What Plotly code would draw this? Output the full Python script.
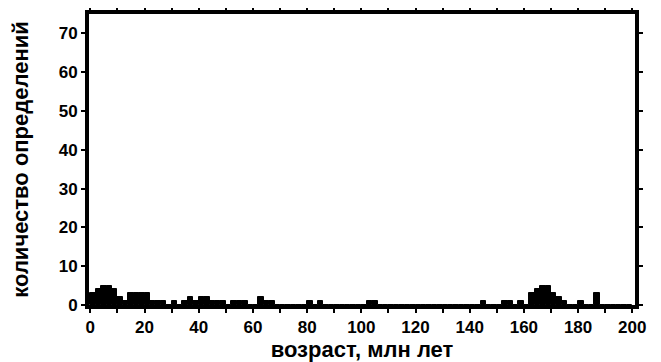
import plotly.graph_objects as go

# bin left edges (2 млн лет) and counts
bin_start = list(range(0, 200, 2))
counts = [
    3, 4, 5, 5, 4, 2, 1, 3, 3, 3,   # 0-20
    3, 1, 1, 1, 0, 1, 0, 1, 2, 1,   # 20-40
    2, 2, 1, 1, 1, 0, 1, 1, 1, 0,   # 40-60
    0, 2, 1, 1, 0, 0, 0, 0, 0, 0,   # 60-80
    1, 0, 1, 0, 0, 0, 0, 0, 0, 0,   # 80-100
    0, 1, 1, 0, 0, 0, 0, 0, 0, 0,   # 100-120
    0, 0, 0, 0, 0, 0, 0, 0, 0, 0,   # 120-140
    0, 0, 1, 0, 0, 0, 1, 1, 0, 1,   # 140-160
    0, 3, 4, 5, 5, 3, 2, 1, 0, 0,   # 160-180
    1, 0, 0, 3, 0, 0, 0, 0, 0, 0,   # 180-200
]
centers = [b + 1 for b in bin_start]

y_ticks = [0, 10, 20, 30, 40, 50, 60, 70]
x_ticks = [0, 20, 40, 60, 80, 100, 120, 140, 160, 180, 200]

fig = go.Figure(go.Bar(x=centers, y=counts, width=2,
                       marker=dict(color='black', line=dict(color='black', width=1))))

family = 'Liberation Sans, Arial, sans-serif'
tick_font = dict(family=family, color='black', size=17, weight='bold')
title_font = dict(family=family, color='black', size=22, weight='bold')

# page body has an 8px margin, so the figure is a bit smaller than the window
fig.update_layout(
    width=653, height=354,
    margin=dict(l=81, r=26, t=6, b=57, autoexpand=False),
    plot_bgcolor='white', paper_bgcolor='white',
    showlegend=False,
    bargap=0,
    font=dict(family=family, color='black'),
    xaxis=dict(range=[-0.5, 201], tickvals=x_ticks, ticks='outside', ticklen=4, tickwidth=1.5,
               tickcolor='black', showline=True, linewidth=4, linecolor='black', mirror='ticks',
               showgrid=False, zeroline=False, automargin=False, tickfont=tick_font,
               minor=dict(dtick=10, tick0=0, ticks='outside', ticklen=4, tickcolor='black', tickwidth=1.5),
               title=dict(text='возраст, млн лет', standoff=6, font=title_font)),
    yaxis=dict(range=[0, 75], tickvals=y_ticks, ticks='outside', ticklen=4, tickwidth=1.5,
               tickcolor='black', showline=True, linewidth=4, linecolor='black', mirror='ticks',
               showgrid=False, zeroline=False, automargin=False, tickfont=tick_font,
               title=dict(text='количество определений', standoff=30, font=title_font)),
)

fig.write_html("out.html")
